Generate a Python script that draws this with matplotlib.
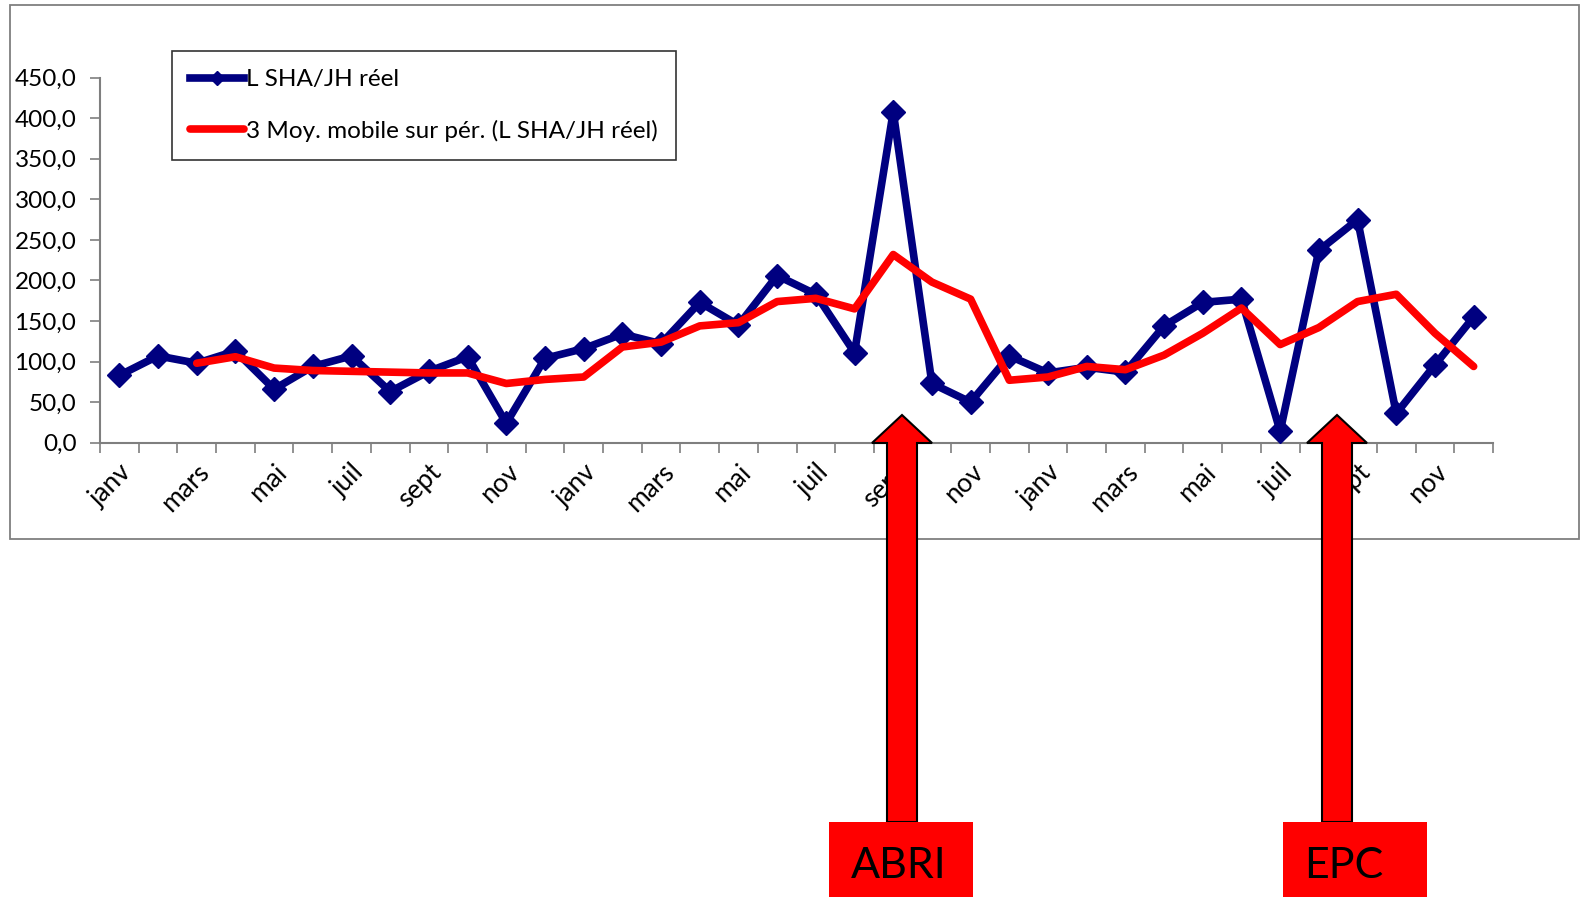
import numpy as np
import matplotlib.pyplot as plt
from matplotlib.patches import Polygon, Rectangle
from matplotlib.ticker import FuncFormatter

plt.rcParams['font.family'] = ['Lato', 'DejaVu Sans']

# mois sur 3 ans
mois = ['janv', 'févr', 'mars', 'avr', 'mai', 'juin', 'juil', 'août', 'sept', 'oct', 'nov', 'déc'] * 3

reel = [83, 107, 98, 113, 66, 94, 107, 63, 88, 106, 24, 104,
        116, 134, 122, 173, 145, 206, 183, 111, 408, 73, 50, 107,
        86, 93, 87, 144, 173, 177, 14, 237, 275, 36, 96, 155]

moy_mobile = [np.nan, np.nan, 98, 106, 92, 89, 88, 87, 86, 86, 73, 78,
              81, 118, 124, 144, 148, 174, 178, 165, 232, 198, 177, 77,
              81, 94, 90, 108, 135, 166, 121, 142, 174, 183, 135, 94]

W, H = 1580, 897
fig = plt.figure(figsize=(W / 100, H / 100), dpi=100)

# cadre du graphique
cadre = fig.add_axes([0, 0, 1, 1], zorder=0)
cadre.set_xlim(0, W)
cadre.set_ylim(H, 0)
cadre.axis('off')
cadre.add_patch(Rectangle((10, 5), 1569, 534, fill=False, edgecolor='#7f7f7f', lw=1.3))

ax = fig.add_axes([100 / W, 1 - 442.7 / H, 1393 / W, 365 / H], zorder=1)
ax.patch.set_alpha(0)
x = np.arange(len(reel))
ax.plot(x, reel, color='#000080', lw=5.5, marker='D', markersize=12,
        markeredgecolor='#000080', label='L SHA/JH réel', zorder=3)
ax.plot(x, moy_mobile, color='#ff0000', lw=5.5, solid_capstyle='round',
        label='3 Moy. mobile sur pér. (L SHA/JH réel)', zorder=4)

ax.set_xlim(-0.5, len(reel) - 0.5)
ax.set_ylim(0, 450)
ax.set_yticks(np.arange(0, 451, 50))
ax.yaxis.set_major_formatter(FuncFormatter(lambda v, p: f'{v:.1f}'.replace('.', ',')))
ax.set_xticks(np.arange(-0.5, len(reel), 1))
ax.set_xticklabels([])
ax.set_xticks(x[::2], minor=True)
ax.set_xticklabels(mois[::2], minor=True, rotation=45, ha='right', va='top',
                   rotation_mode='anchor')
ax.tick_params(axis='x', which='minor', length=0, pad=12, labelsize=19)
ax.tick_params(axis='x', which='major', length=7, width=1.2, color='#7f7f7f')
ax.tick_params(axis='y', length=7, width=1.2, color='#7f7f7f', labelsize=17.5, pad=10)
for s in ['top', 'right']:
    ax.spines[s].set_visible(False)
for s in ['left', 'bottom']:
    ax.spines[s].set_color('#7f7f7f')
    ax.spines[s].set_linewidth(1.5)

leg = ax.legend(loc='upper left', bbox_to_anchor=(172 / W, 1 - 51 / H),
                bbox_transform=fig.transFigure, borderaxespad=0, fancybox=False,
                edgecolor='black', fontsize=17.5, handlelength=2.2, handletextpad=0.1,
                labelspacing=1.2, borderpad=0.75, markerscale=0.6)
leg.get_frame().set_linewidth(1.2)

# flèches et étiquettes
fl = fig.add_axes([0, 0, 1, 1], zorder=5)
fl.set_xlim(0, W)
fl.set_ylim(H, 0)
fl.axis('off')
for cx, bx, tx, txt in [(902, 829, 899, 'ABRI'), (1337, 1283, 1344, 'EPC')]:
    pts = [(cx, 415), (cx + 30, 443), (cx + 15, 443), (cx + 15, 822),
           (cx - 15, 822), (cx - 15, 443), (cx - 30, 443)]
    fl.add_patch(Polygon(pts, closed=True, facecolor='#ff0000', edgecolor='black', lw=1.5))
    fl.add_patch(Rectangle((bx, 822), 144, 80, facecolor='#ff0000', edgecolor='none'))
    fl.text(tx, 866, txt, fontsize=31, ha='center', va='center', color='black')

fig.savefig('out.png', dpi=100)
